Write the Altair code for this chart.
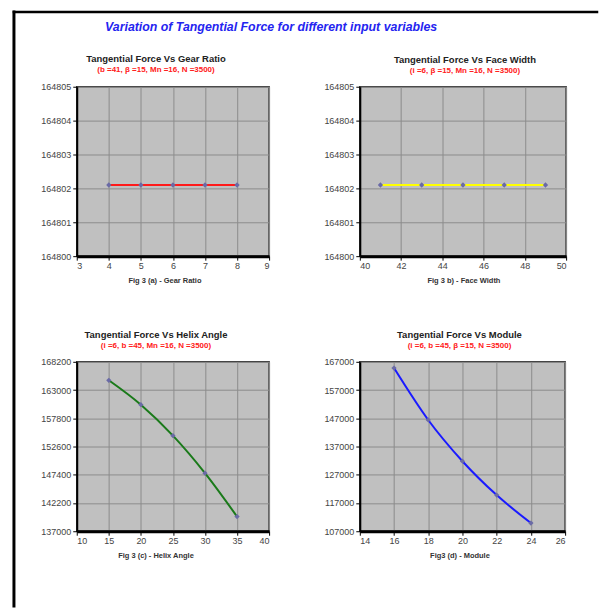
import altair as alt
import pandas as pd

FONT = "Liberation Sans"

main_title = ["Variation of Tangential Force for different input variables"]

gear_ratio = [4, 5, 6, 7, 8]
ft_gear = [164802.1, 164802.1, 164802.1, 164802.1, 164802.1]

face_width = [41, 43, 45, 47, 49]
ft_face = [164802.1, 164802.1, 164802.1, 164802.1, 164802.1]

helix_angle = [15, 20, 25, 30, 35]
ft_helix = [164802, 160300, 154600, 147700, 139700]

module = [16, 18, 20, 22, 24]
ft_module = [164800, 146400, 131800, 119800, 109900]


def panel(xv, yv, color, xdom, xstep, ydom, ystep, title, subtitle, xtitle,
          w, h, tdx, title_x, frame=False):
    df = pd.DataFrame({"x": xv, "y": yv})
    xvals = list(range(xdom[0], xdom[1] + 1, xstep))
    yvals = list(range(ydom[0], ydom[1] + 1, ystep))
    xa = alt.Axis(values=xvals, title=xtitle, format="d", grid=True,
                  gridColor="#8c8c8c", gridWidth=1,
                  domainColor="black", domainWidth=3,
                  tickColor="black", tickSize=4, tickWidth=1,
                  labelFont=FONT, labelFontSize=9, labelColor="#444",
                  labelPadding=1,
                  titleFont=FONT, titleFontSize=7.5, titleFontWeight="bold",
                  titleColor="#333", titlePadding=6, titleX=title_x,
                  titleAlign="center")
    ya = alt.Axis(values=yvals, title=None, format="d", grid=True,
                  gridColor="#8c8c8c", gridWidth=1,
                  domainColor="black", domainWidth=2,
                  tickColor="black", tickSize=4, tickWidth=1,
                  labelFont=FONT, labelFontSize=9, labelColor="#444",
                  labelPadding=2)
    base = alt.Chart(df).encode(
        x=alt.X("x:Q", scale=alt.Scale(domain=xdom, nice=False, zero=False), axis=xa),
        y=alt.Y("y:Q", scale=alt.Scale(domain=ydom, nice=False, zero=False), axis=ya),
    )
    line = base.mark_line(color=color, strokeWidth=2, interpolate="monotone")
    pts = base.mark_point(shape="diamond", filled=True, color="#6a6aa6",
                          size=28, opacity=1)
    layers = [line, pts]
    tdy = 0
    if frame:
        one = pd.DataFrame({"t": main_title})
        ttl = alt.Chart(one).mark_text(
            font=FONT, fontSize=12.4, fontWeight="bold", fontStyle="italic",
            color="#2424f0", align="center", baseline="middle"
        ).encode(text="t:N", x=alt.value(195), y=alt.value(-60))
        left = alt.Chart(one).mark_rule(color="black", strokeWidth=3, strokeCap="square").encode(
            x=alt.value(-63), y=alt.value(-75), y2=alt.value(521))
        top = alt.Chart(one).mark_rule(color="black", strokeWidth=2.5, strokeCap="square").encode(
            x=alt.value(-63), x2=alt.value(522), y=alt.value(-75))
        layers += [ttl, left, top]
        tdy = 72
    return alt.layer(*layers).properties(
        width=w, height=h,
        title=alt.TitleParams(
            text=title, subtitle=subtitle, font=FONT, fontSize=9.5,
            fontWeight="bold", color="#222", subtitleFont=FONT,
            subtitleFontSize=8, subtitleFontWeight="bold",
            subtitleColor="#ff2020", subtitlePadding=2, offset=8,
            anchor="middle", frame="group", dx=tdx, dy=tdy),
    )


pa = panel(gear_ratio, ft_gear, "#ff1a1a", [3, 9], 1, [164800, 164805], 1,
           "Tangential Force Vs Gear Ratio", "(b =41, \u03b2 =15, Mn =16, N =3500)",
           "Fig 3 (a) -  Gear Ratio", 193, 170, -17, 88, frame=True)
pb = panel(face_width, ft_face, "#ffff00", [40, 50], 2, [164800, 164805], 1,
           "Tangential Force Vs Face Width", "(i =6, \u03b2 =15, Mn =16, N =3500)",
           "Fig 3 b) -  Face Width", 207, 170, 2, 104)
pc = panel(helix_angle, ft_helix, "#1a7a1a", [10, 40], 5, [137000, 168200], 5200,
           "Tangential Force Vs Helix Angle", "(i =6, b =45, Mn =16, N =3500)",
           "Fig 3 (c) -  Helix Angle", 193, 170, -17, 79)
pd_ = panel(module, ft_module, "#1a1aff", [14, 26], 2, [107000, 167000], 10000,
            "Tangential Force Vs Module", "(i =6, b =45, \u03b2 =15, N =3500)",
            "Fig3 (d) -  Module", 206, 170, -3, 100)

chart = alt.concat(pa, pb, pc, pd_, columns=2,
                   spacing={"row": 106, "column": 91}, bounds="flush").properties(
    padding={"left": 11, "top": 8, "right": 0, "bottom": 0},
    background="white",
).configure_view(fill="#c0c0c0", stroke="#333", strokeWidth=1.5)

chart.save("out.html", embed_options={"renderer": "svg", "actions": False})
